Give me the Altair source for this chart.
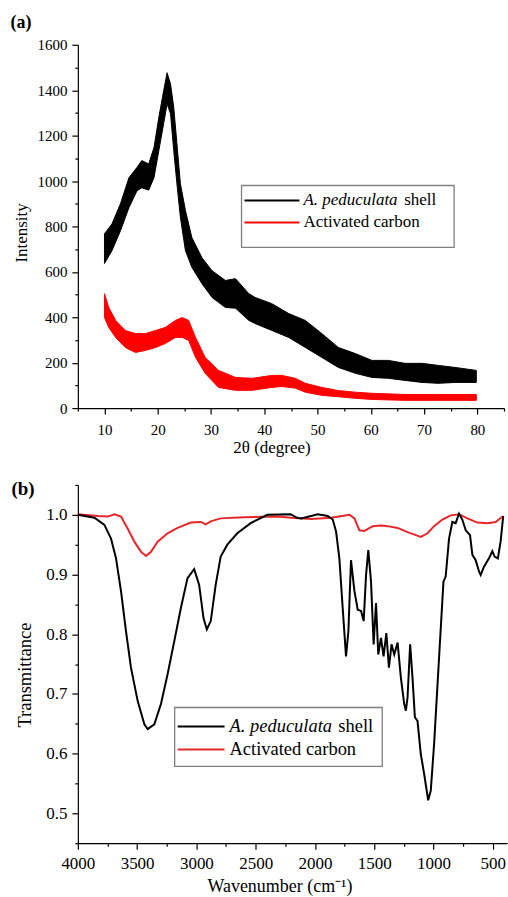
import altair as alt
import pandas as pd

# ---------------- Panel (a): XRD patterns (noise band read as lower/upper envelope) ----------------
xrd_shell_2theta = [10.0, 11.4, 13.0, 14.6, 16.1, 17.0, 18.3, 19.3, 20.2, 21.1, 21.75, 22.4, 23.0, 23.6,
                    24.25, 25.2, 26.4, 28.3, 30.2, 32.7, 34.6, 37.1, 38.3, 41.4, 44.6, 47.7, 50.8, 53.9,
                    57.1, 60.2, 63.3, 66.4, 69.6, 72.7, 75.8, 79.8]
xrd_shell_low = [637, 693, 781, 883, 957, 970, 960, 1015, 1134, 1252, 1340, 1296, 1134, 988,
                 840, 693, 620, 548, 487, 443, 440, 386, 372, 342, 311, 267, 223, 179,
                 153, 135, 131, 122, 113, 109, 113, 113]
xrd_shell_high = [768, 811, 900, 1015, 1060, 1090, 1075, 1148, 1280, 1397, 1477, 1427, 1325, 1164,
                  988, 870, 751, 662, 605, 562, 570, 504, 487, 460, 416, 386, 328, 267,
                  240, 210, 210, 197, 197, 188, 179, 166]

xrd_ac_2theta = [10.0, 10.8, 12.1, 13.9, 15.8, 17.7, 19.6, 21.4, 23.3, 24.6, 25.8, 27.1, 28.9, 31.4,
                 34.6, 37.7, 41.4, 43.3, 45.8, 47.7, 50.8, 53.9, 57.1, 60.2, 66.4, 72.7, 79.8]
xrd_ac_low = [399, 355, 311, 267, 245, 254, 267, 284, 311, 311, 298, 223, 153, 91,
              78, 78, 91, 95, 88, 70, 56, 50, 43, 38, 34, 34, 34]
xrd_ac_high = [504, 443, 386, 342, 328, 328, 342, 355, 386, 399, 386, 311, 223, 166,
               135, 131, 144, 144, 131, 109, 91, 77, 70, 65, 60, 60, 60]

# ---------------- Panel (b): FTIR spectra ----------------
ftir_shell_wn = [4000, 3860, 3776, 3720, 3678, 3636, 3594, 3552, 3495, 3439, 3411, 3355, 3299, 3243,
                 3187, 3131, 3075, 3019, 2977, 2940, 2912, 2879, 2837, 2795, 2739, 2655, 2542, 2402,
                 2206, 2150, 2116, 2032, 1976, 1892, 1850, 1822, 1794, 1766, 1738, 1718, 1696, 1667,
                 1639, 1611, 1589, 1569, 1550, 1527, 1505, 1485, 1466, 1443, 1421, 1398, 1376, 1354,
                 1331, 1303, 1275, 1247, 1233, 1219, 1197, 1177, 1157, 1135, 1107, 1079, 1045, 1023,
                 995, 953, 916, 897, 869, 841, 813, 785, 757, 728, 692, 672, 644, 616, 602, 574, 532,
                 504, 485, 457, 434, 412]
ftir_shell_T = [1.000, 0.995, 0.983, 0.960, 0.927, 0.872, 0.805, 0.744, 0.688, 0.649, 0.641, 0.649, 0.683, 0.733,
                0.788, 0.844, 0.894, 0.909, 0.883, 0.827, 0.808, 0.822, 0.883, 0.930, 0.950, 0.969, 0.986, 1.000,
                1.001, 0.995, 0.994, 0.998, 1.001, 0.998, 0.992, 0.972, 0.927, 0.844, 0.763, 0.805, 0.924, 0.872,
                0.841, 0.839, 0.822, 0.899, 0.941, 0.888, 0.783, 0.852, 0.766, 0.794, 0.763, 0.802, 0.744, 0.783,
                0.766, 0.786, 0.727, 0.683, 0.672, 0.694, 0.783, 0.727, 0.661, 0.655, 0.599, 0.566, 0.522, 0.538,
                0.616, 0.761, 0.888, 0.897, 0.960, 0.988, 0.986, 1.002, 0.992, 0.974, 0.966, 0.933, 0.924, 0.905,
                0.899, 0.913, 0.927, 0.939, 0.930, 0.927, 0.955, 0.998]

ftir_ac_wn = [4000, 3832, 3748, 3692, 3636, 3580, 3523, 3467, 3425, 3383, 3327, 3243, 3159, 3047,
              2963, 2921, 2879, 2795, 2598, 2318, 2200, 2032, 1864, 1709, 1667, 1625, 1583, 1513,
              1443, 1387, 1303, 1219, 1149, 1107, 1051, 995, 925, 855, 785, 714, 630, 546, 476, 412]
ftir_ac_T = [1.001, 0.998, 0.997, 1.001, 0.997, 0.977, 0.955, 0.938, 0.931, 0.938, 0.955, 0.969, 0.978, 0.987,
             0.988, 0.984, 0.989, 0.994, 0.996, 0.997, 0.995, 0.993, 0.995, 1.000, 0.994, 0.974, 0.973, 0.981,
             0.982, 0.981, 0.978, 0.971, 0.966, 0.963, 0.969, 0.981, 0.992, 0.999, 1.001, 0.994, 0.987, 0.986,
             0.988, 0.998]

series_italic = "A. peduculata"
series_shell_word = "shell"
series_ac = "Activated carbon"

xa_ticks = [5, 10, 15, 20, 25, 30, 35, 40, 45, 50, 55, 60, 65, 70, 75, 80, 85]
ya_ticks = list(range(0, 1700, 100))
xb_ticks = list(range(4000, 250, -250))
yb_ticks = [0.45, 0.5, 0.55, 0.6, 0.65, 0.7, 0.75, 0.8, 0.85, 0.9, 0.95, 1.0, 1.05]

FONT = "Liberation Serif"
RED_A = "#ff0000"
RED_B = "#e8262a"
WA, HA = 427, 364
WB, HB = 430, 359


def make_axis(values, major_test, label_expr, label_size, label_pad, title, title_size, tx, ty):
    return alt.Axis(
        values=values, labelExpr=label_expr, labelFont=FONT, labelFontSize=label_size,
        labelColor="black", labelPadding=label_pad, labelOverlap=False, labelFlush=False,
        tickSize={"condition": {"test": major_test, "value": 6}, "value": 3},
        tickColor="black", tickWidth=1.2, domainColor="black", domainWidth=1.2, grid=False,
        title=title, titleFont=FONT, titleFontSize=title_size, titleFontWeight="normal",
        titleColor="black", titleX=tx, titleY=ty, titleBaseline="middle", titleAlign="center",
    )


one = pd.DataFrame({"k": [0]})

# ---------------- panel (a) ----------------
xa = alt.X("x:Q", scale=alt.Scale(domain=[5, 85], nice=False, zero=False),
           axis=make_axis(xa_ticks, "datum.value % 10 === 0",
                          "datum.value % 10 === 0 ? format(datum.value, 'd') : ''", 15, 8,
                          "2θ (degree)", 17, 194, 40))
ya = alt.Y("lo:Q", scale=alt.Scale(domain=[0, 1600], nice=False, zero=False),
           axis=make_axis(ya_ticks, "datum.value % 200 === 0",
                          "datum.value % 200 === 0 ? format(datum.value, 'd') : ''", 15, 5,
                          "Intensity", 17, -56, 188))

df_a_shell = pd.DataFrame({"x": xrd_shell_2theta, "lo": xrd_shell_low, "hi": xrd_shell_high})
df_a_ac = pd.DataFrame({"x": xrd_ac_2theta, "lo": xrd_ac_low, "hi": xrd_ac_high})

a_shell = alt.Chart(df_a_shell).mark_area(color="black", stroke="black", strokeWidth=1).encode(x=xa, y=ya, y2="hi:Q")
a_ac = alt.Chart(df_a_ac).mark_area(color=RED_A, stroke=RED_A, strokeWidth=1).encode(x=xa, y=ya, y2="hi:Q")


def legend_layers(box, y1, y2, lx1, lx2, tx, shell_x, fsize, red):
    rect = alt.Chart(one).mark_rect(fill="white", stroke="#808080", strokeWidth=1.3).encode(
        x=alt.value(box[0]), x2=alt.value(box[1]), y=alt.value(box[2]), y2=alt.value(box[3]))
    r1 = alt.Chart(one).mark_rule(color="black", strokeWidth=2).encode(
        x=alt.value(lx1), x2=alt.value(lx2), y=alt.value(y1))
    r2 = alt.Chart(one).mark_rule(color=red, strokeWidth=2).encode(
        x=alt.value(lx1), x2=alt.value(lx2), y=alt.value(y2))
    t1 = alt.Chart(one).mark_text(font=FONT, fontSize=fsize, fontStyle="italic", align="left",
                                  baseline="middle", color="black").encode(
        x=alt.value(tx), y=alt.value(y1), text=alt.value(series_italic))
    t2 = alt.Chart(one).mark_text(font=FONT, fontSize=fsize, align="left", baseline="middle",
                                  color="black").encode(
        x=alt.value(shell_x), y=alt.value(y1), text=alt.value(series_shell_word))
    t3 = alt.Chart(one).mark_text(font=FONT, fontSize=fsize, align="left", baseline="middle",
                                  color="black").encode(
        x=alt.value(tx), y=alt.value(y2), text=alt.value(series_ac))
    return [rect, r1, r2, t1, t2, t3]


lab_a = alt.Chart(one).mark_text(font=FONT, fontSize=18, fontWeight="bold", align="center",
                                 baseline="middle", color="black").encode(
    x=alt.value(-57), y=alt.value(-22), text=alt.value("(a)"))

panel_a = alt.layer(a_shell, a_ac, *legend_layers((164, 377, 141, 203), 156, 178, 167, 222, 226, 327, 17, RED_A),
                    lab_a).properties(width=WA, height=HA)

# ---------------- panel (b) ----------------
xb = alt.X("wn:Q", scale=alt.Scale(domain=[4000, 380], nice=False, zero=False),
           axis=make_axis(xb_ticks, "datum.value % 500 === 0",
                          "datum.value % 500 === 0 ? format(datum.value, 'd') : ''", 17, 6,
                          "Wavenumber (cm\u207b\u00b9)", 18, 202, 43))
yb = alt.Y("T:Q", scale=alt.Scale(domain=[0.45, 1.05], nice=False, zero=False),
           axis=make_axis(yb_ticks, "round(datum.value * 100) % 10 === 0",
                          "round(datum.value * 100) % 10 === 0 ? format(datum.value, '.1f') : ''", 17, 5,
                          "Transmittance", 18.5, -53, 190))

df_b_shell = pd.DataFrame({"wn": ftir_shell_wn, "T": ftir_shell_T})
df_b_ac = pd.DataFrame({"wn": ftir_ac_wn, "T": ftir_ac_T})

b_shell = alt.Chart(df_b_shell).mark_line(color="black", strokeWidth=2).encode(
    x=xb, y=yb, order=alt.Order("wn:Q", sort="descending"))
b_ac = alt.Chart(df_b_ac).mark_line(color=RED_B, strokeWidth=2).encode(
    x=xb, y=yb, order=alt.Order("wn:Q", sort="descending"))

lab_b = alt.Chart(one).mark_text(font=FONT, fontSize=19, fontWeight="bold", align="center",
                                 baseline="middle", color="black").encode(
    x=alt.value(-55), y=alt.value(4), text=alt.value("(b)"))

panel_b = alt.layer(b_ac, b_shell, *legend_layers((97, 305, 223, 282), 242, 265, 100, 147, 152, 261, 18.5, RED_B),
                    lab_b).properties(width=WB, height=HB)

chart = alt.vconcat(panel_a, panel_b, spacing=20).properties(
    padding={"left": 10, "top": 13, "right": 0, "bottom": 0},
    background="white",
).configure_view(stroke=None).configure_axis(
    labelFont=FONT, titleFont=FONT
).configure_text(font=FONT)

chart.save("out.html", embed_options={"renderer": "svg", "actions": False})
